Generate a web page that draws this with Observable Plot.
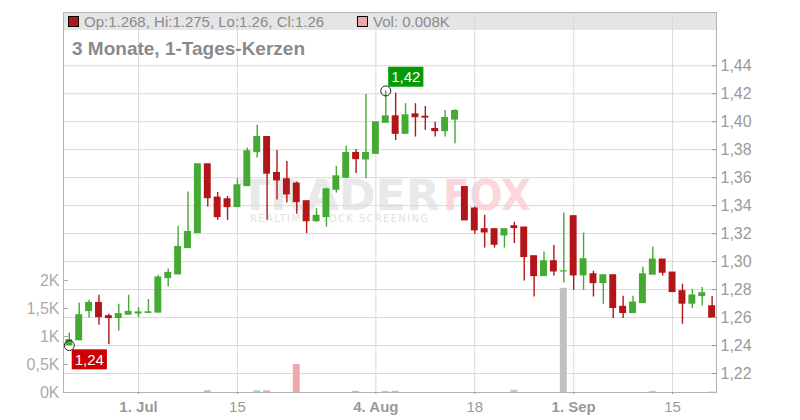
<!DOCTYPE html>
<html><head><meta charset="utf-8">
<script src="https://cdn.jsdelivr.net/npm/d3@7"></script>
<script src="https://cdn.jsdelivr.net/npm/@observablehq/plot@0.6"></script>
<style>
body{margin:0;background:#fff;font-family:"Liberation Sans",Arial,sans-serif;}
#wrap{position:relative;width:800px;height:420px;overflow:hidden;}
#wrap > *{position:absolute;left:0;top:0;}
</style></head><body><div id="wrap"></div>
<script>
// ---- data ----
const dates = ["2025-06-20","2025-06-23","2025-06-24","2025-06-25","2025-06-26","2025-06-27","2025-06-30",
"2025-07-01","2025-07-02","2025-07-03","2025-07-04","2025-07-07","2025-07-08","2025-07-09","2025-07-10","2025-07-11",
"2025-07-14","2025-07-15","2025-07-16","2025-07-17","2025-07-18","2025-07-21","2025-07-22","2025-07-23","2025-07-24","2025-07-25",
"2025-07-28","2025-07-29","2025-07-30","2025-07-31","2025-08-01","2025-08-04","2025-08-05","2025-08-06","2025-08-07","2025-08-08",
"2025-08-11","2025-08-12","2025-08-13","2025-08-14","2025-08-15","2025-08-18","2025-08-19","2025-08-20","2025-08-21","2025-08-22",
"2025-08-25","2025-08-26","2025-08-27","2025-08-28","2025-08-29","2025-09-01","2025-09-02","2025-09-03","2025-09-04","2025-09-05",
"2025-09-08","2025-09-09","2025-09-10","2025-09-11","2025-09-12","2025-09-15","2025-09-16","2025-09-17","2025-09-18","2025-09-19"];
const open  = [1.2402,1.2438,1.2647,1.2704,1.2609,1.2597,1.2621,1.2630,1.2634,1.2636,1.2883,1.2909,1.3097,1.3204,1.3695,1.3457,1.3445,1.3390,1.3540,1.3783,1.3890,1.3633,1.3588,1.3557,1.3431,1.3290,1.3319,1.3514,1.3600,1.3776,1.3731,1.3771,1.3993,1.4038,1.3914,1.4052,1.4035,1.3947,1.3933,1.4016,1.3533,1.3379,1.3231,1.3231,1.3188,1.3252,1.3243,1.3038,1.2897,1.3002,1.2930,1.3324,1.2902,1.2909,1.2847,1.2902,1.2676,1.2633,1.2704,1.2907,1.3014,1.2921,1.2788,1.2700,1.2754,1.268];
const high  = [1.2490,1.2704,1.2724,1.2759,1.2624,1.2695,1.2759,1.2671,1.2729,1.2902,1.2947,1.3252,1.3497,1.3695,1.3695,1.3495,1.3466,1.3593,1.3811,1.3974,1.3890,1.3795,1.3716,1.3569,1.3431,1.3379,1.3525,1.3681,1.3824,1.3802,1.4195,1.3995,1.4220,1.4205,1.4129,1.4129,1.4109,1.3997,1.4081,1.4086,1.3533,1.3390,1.3331,1.3236,1.3231,1.3281,1.3243,1.3038,1.3069,1.3116,1.3347,1.3324,1.3204,1.2931,1.2902,1.2902,1.2752,1.2752,1.2961,1.3104,1.3014,1.2921,1.2838,1.2802,1.2814,1.275];
const low   = [1.2400,1.2438,1.2597,1.2545,1.2405,1.2504,1.2621,1.2600,1.2634,1.2636,1.2819,1.2909,1.3097,1.3204,1.3390,1.3295,1.3295,1.3390,1.3540,1.3740,1.3295,1.3440,1.3419,1.3338,1.3200,1.3283,1.3247,1.3490,1.3593,1.3629,1.3593,1.3771,1.3993,1.3866,1.3914,1.3890,1.3938,1.3890,1.3890,1.3843,1.3295,1.3195,1.3097,1.3097,1.3097,1.3129,1.2861,1.2747,1.2897,1.2897,1.2847,1.2795,1.2795,1.2747,1.2695,1.2593,1.2593,1.2629,1.2704,1.2907,1.2897,1.2783,1.2552,1.2664,1.2683,1.26];
const close = [1.2438,1.2616,1.2704,1.2604,1.2597,1.2624,1.2640,1.2636,1.2637,1.2886,1.2919,1.3104,1.3211,1.3695,1.3454,1.3319,1.3390,1.3545,1.3788,1.3890,1.3629,1.3581,1.3481,1.3426,1.3290,1.3326,1.3516,1.3609,1.3776,1.3733,1.3776,1.3995,1.4038,1.3914,1.4045,1.4033,1.4030,1.3933,1.4026,1.4076,1.3295,1.3224,1.3209,1.3121,1.3231,1.3240,1.3033,1.2897,1.3002,1.2930,1.2930,1.2902,1.3016,1.2847,1.2902,1.2669,1.2633,1.2707,1.2909,1.3014,1.2921,1.2783,1.2700,1.2757,1.2774,1.26];
// volume in thousands (K)
const volume = [0,0,0,0,0,0,0,0,0,0,0,0,0,0,0.03,0,0,0,0,0.03,0.03,0,0,0.5,0,0,0,0,0,0.02,0,0,0.02,0.02,0,0,0,0,0,0,0,0,0,0,0,0.04,0,0,0,0,1.86,0,0,0,0,0,0,0,0,0.02,0,0,0,0,0,0.008];

const priceTicks = [1.22,1.24,1.26,1.28,1.30,1.32,1.34,1.36,1.38,1.40,1.42,1.44];
const volTicks = [0,0.5,1,1.5,2];
const volTickLabels = ["0K","0,5K","1K","1,5K","2K"];
const tickDates  = ["2025-07-01","2025-07-15","2025-08-04","2025-08-18","2025-09-01","2025-09-15"];
const tickLabels = ["1. Jul","15","4. Aug","18","1. Sep","15"];
const tickBold   = [true,false,true,false,true,false];
const title = "3 Monate, 1-Tages-Kerzen";

// ---- colors ----
const UP = "#44aa33", DOWN = "#b31518";
const VUP = "#a8dba4", VDOWN = "#f1a6ae", VFLAT = "#c0c0c0";
const GRID = "#dadada", AXIS = "#b4b4b4", LABEL = "#9a9a9a";
const FONT = "Liberation Sans, Arial, sans-serif";

// ---- table ----
const n = dates.length;
const candles = dates.map((d, i) => ({
  i, date: d, o: open[i], h: high[i], l: low[i], c: close[i], v: volume[i],
  up: close[i] >= open[i],
  vdir: i === 0 ? 0 : Math.sign(+(close[i] - close[i-1]).toFixed(5))
}));
const tickIdx = tickDates.map(t => dates.indexOf(t));
const labelOf = new Map(tickIdx.map((k, j) => [k, tickLabels[j]]));
const boldIdx = tickIdx.filter((k, j) => tickBold[j]);
const normIdx = tickIdx.filter((k, j) => !tickBold[j]);

const W = 800, H = 420;
const common = {
  width: W, height: H, marginTop: 12, marginBottom: 28, marginLeft: 63, marginRight: 84,
  style: {fontFamily: FONT, background: "transparent", overflow: "visible"}
};
const xOpt = {type: "band", domain: d3.range(n), paddingInner: 0.3, paddingOuter: 0.165, align: 0.72};
const yPrice = {domain: [1.20643, 1.47807]};
const yVol = {domain: [0, 380 / 56]};

const wrap = document.getElementById("wrap");

// ---- back decoration: header band + watermark ----
const back = d3.create("svg").attr("width", W).attr("height", H);
back.append("rect").attr("x", 63).attr("y", 12).attr("width", 653).attr("height", 18).attr("fill", "#e5e5e5");
const wm = back.append("g").attr("font-family", "DejaVu Sans, sans-serif").attr("font-weight", "bold");
wm.append("text").attr("x", 240).attr("y", 210).attr("font-size", 42).attr("fill", "#e9e9e9")
  .attr("textLength", 200).attr("lengthAdjust", "spacingAndGlyphs").text("TRADER");
wm.append("text").attr("x", 443).attr("y", 210).attr("font-size", 42).attr("fill", "#fbd6da")
  .attr("textLength", 88).attr("lengthAdjust", "spacingAndGlyphs").text("FOX");
wm.append("text").attr("x", 250).attr("y", 222).attr("font-size", 10).attr("font-weight", "normal").attr("fill", "#e2e2e2")
  .attr("textLength", 178).attr("lengthAdjust", "spacing").text("REALTIME STOCK SCREENING");
wrap.appendChild(back.node());

// ---- grid layer ----
const gridPlot = Plot.plot({
  ...common, x: {...xOpt, axis: null}, y: {...yPrice, axis: null},
  marks: [
    Plot.gridY(priceTicks, {stroke: GRID, strokeOpacity: 1}),
    Plot.gridX(tickIdx, {stroke: GRID, strokeOpacity: 1})
  ]
});
wrap.appendChild(gridPlot);

// ---- front decoration: header legend + title ----
const last = candles[n - 1];
const front = d3.create("svg").attr("width", W).attr("height", H).attr("font-family", FONT);
front.append("rect").attr("x", 68.5).attr("y", 16.5).attr("width", 10).attr("height", 10)
  .attr("fill", last.up ? UP : DOWN).attr("stroke", "#000");
front.append("text").attr("x", 84).attr("y", 26.5).attr("font-size", 15).attr("fill", "#8a8a8a")
  .text(`Op:${last.o}, Hi:${last.h}, Lo:${last.l}, Cl:${last.c}`);
front.append("rect").attr("x", 357.5).attr("y", 16.5).attr("width", 10).attr("height", 10)
  .attr("fill", last.vdir > 0 ? VUP : last.vdir < 0 ? VDOWN : VFLAT).attr("stroke", "#000");
front.append("text").attr("x", 373).attr("y", 26.5).attr("font-size", 15).attr("fill", "#8a8a8a")
  .text(`Vol: ${last.v}K`);
front.append("text").attr("x", 72).attr("y", 54.5).attr("font-size", 19).attr("font-weight", "bold").attr("fill", "#8a8a8a")
  .text(title);
wrap.appendChild(front.node());

// ---- volume layer ----
const volPlot = Plot.plot({
  ...common, x: {...xOpt, axis: null}, y: {...yVol, axis: null},
  marks: [
    Plot.barY(candles.filter(d => d.v > 0), {x: "i", y: "v",
      fill: d => d.vdir > 0 ? VUP : d.vdir < 0 ? VDOWN : VFLAT}),
    Plot.axisY(volTicks, {anchor: "left", label: null, tickFormat: d => volTickLabels[volTicks.indexOf(d)],
      tickSize: -5, tickPadding: 9, fontSize: 16, color: "#aaaaaa"})
  ]
});
wrap.appendChild(volPlot);

// ---- candle layer ----
const hiIdx = d3.maxIndex(candles, d => d.h);
const loIdx = d3.minIndex(candles, d => d.l);
const fmt = v => v.toFixed(2).replace(".", ",");
const pricePlot = Plot.plot({
  ...common, x: {...xOpt, axis: null}, y: {...yPrice, axis: null},
  marks: [
    Plot.frame({stroke: AXIS}),
    Plot.ruleX(candles, {x: "i", y1: "l", y2: "h", stroke: d => d.up ? UP : DOWN, strokeWidth: 1.4}),
    Plot.barY(candles, {x: "i", y1: "o", y2: "c", fill: d => d.up ? UP : DOWN, insetTop: -0.6, insetBottom: -0.6}),
    Plot.axisY(priceTicks, {anchor: "right", label: null, tickFormat: fmt, tickSize: -5, tickPadding: 9, fontSize: 16, color: LABEL}),
    Plot.axisX(boldIdx, {anchor: "bottom", label: null, tickFormat: k => labelOf.get(k), fontWeight: "bold", fontSize: 15, color: LABEL, tickSize: 2, tickPadding: 7}),
    Plot.axisX(normIdx, {anchor: "bottom", label: null, tickFormat: k => labelOf.get(k), fontSize: 15, color: LABEL, tickSize: 2, tickPadding: 7}),
    Plot.dot([candles[hiIdx]], {x: "i", y: "h", r: 5, stroke: "#222", strokeWidth: 1, fill: "none"}),
    Plot.dot([candles[loIdx]], {x: "i", y: "l", r: 5, stroke: "#222", strokeWidth: 1, fill: "none"}),
    Plot.text([candles[hiIdx]], {x: "i", y: "h", text: d => fmt(d.h), dx: 20, dy: -13.5, fill: "white", fontSize: 15}),
    Plot.text([candles[loIdx]], {x: "i", y: "l", text: d => fmt(d.l), dx: 20, dy: 14.5, fill: "white", fontSize: 15})
  ]
});
wrap.appendChild(pricePlot);

// label boxes behind the two annotation texts (high: green, low: red)
const boxColor = new Map([[fmt(candles[hiIdx].h), "#079a07"], [fmt(candles[loIdx].l), "#cc0000"]]);
d3.select(pricePlot).selectAll("g").filter(function() { return this.getAttribute("fill") === "white"; })
  .selectAll("text").each(function() {
    const b = this.getBBox();
    const cy = b.y + b.height / 2;
    const r = d3.select(this.parentNode).insert("rect", () => this)
      .attr("x", b.x - 3).attr("y", cy - 10).attr("width", b.width + 6).attr("height", 20)
      .attr("fill", boxColor.get(this.textContent) || "#888");
    if (this.getAttribute("transform")) r.attr("transform", this.getAttribute("transform"));
  });
</script></body></html>
